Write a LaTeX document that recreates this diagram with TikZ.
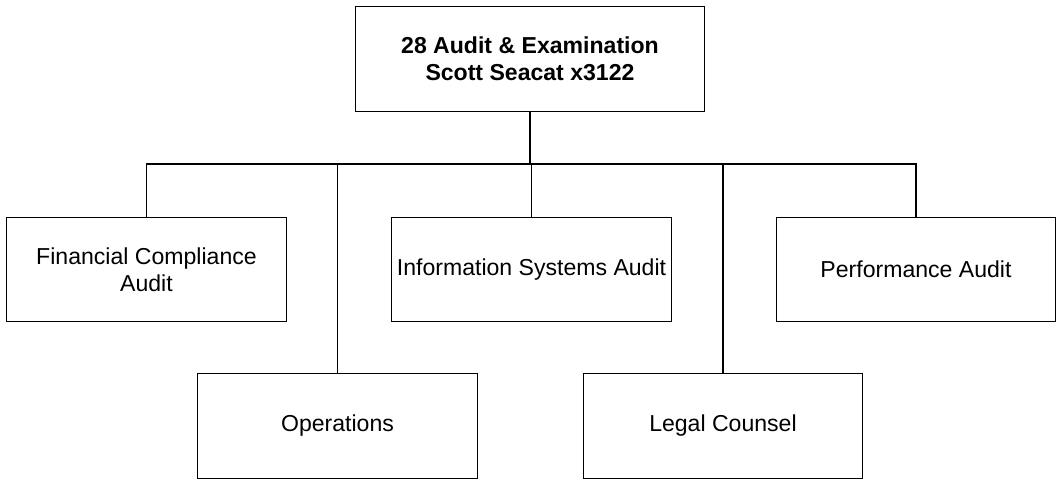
\documentclass[tikz,border=0pt]{standalone}
\usepackage{fontspec}
\setmainfont{Liberation Sans}
\tikzset{
  unitbox/.style={draw, line width=0.8pt, align=center, inner sep=0pt,
    minimum width=209.5pt, minimum height=78.5pt,
    font=\fontsize{17.3}{20.5}\selectfont},
  headbox/.style={unitbox, minimum width=261.75pt, font=\fontsize{17.3}{20.5}\selectfont\bfseries},
  link/.style={line width=0.8pt}
}
\begin{document}
\begin{tikzpicture}[x=0.75pt, y=-0.75pt]
\useasboundingbox (0,0) rectangle (1056,479);

\node[headbox] (head) at (530,59) {28 Audit \& Examination\\Scott Seacat x3122};
\node[unitbox] (fin) at (146.5,269.5) {Financial Compliance\\Audit};
\node[unitbox] (info) at (531.5,269.5) {Information Systems Audit};
\node[unitbox] (perf) at (916,269.5) {Performance Audit};
\node[unitbox] (ops) at (337.5,426) {Operations};
\node[unitbox] (legal) at (723,426) {Legal Counsel};

\coordinate (bus) at (530,164);

\draw[link] (head.south) -- (bus);
\draw[link] (fin.north) |- (bus) -| (perf.north);
\draw[link] (info.north) -- (info.north |- bus);
\draw[link] (ops.north) -- (ops.north |- bus);
\draw[link] (legal.north) -- (legal.north |- bus);

\end{tikzpicture}
\end{document}
